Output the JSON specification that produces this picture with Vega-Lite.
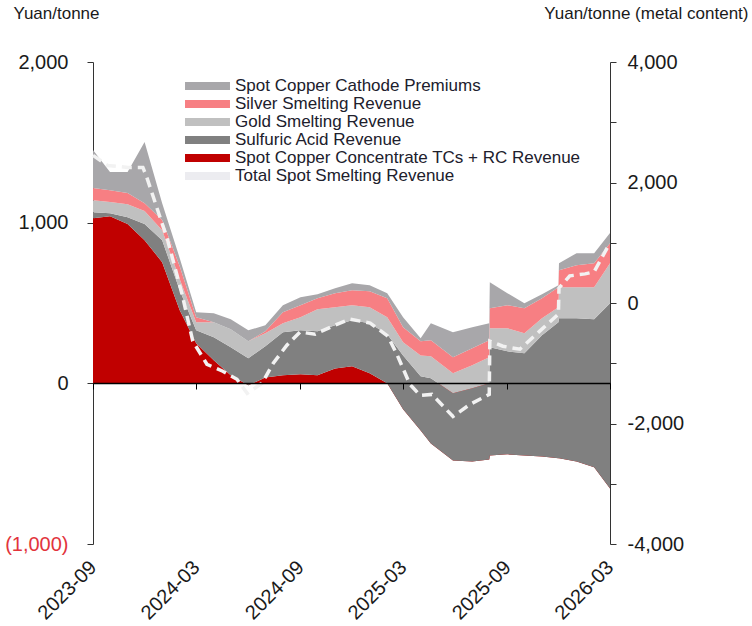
{
  "$schema": "https://vega.github.io/schema/vega-lite/v6.json",
  "width": 517,
  "height": 482,
  "autosize": "none",
  "padding": {"left": 93, "top": 62, "right": 142, "bottom": 82},
  "background": "white",
  "config": {
    "font": "Liberation Sans",
    "view": {"stroke": null},
    "axis": {"grid": false}
  },
  "datasets": {
    "areas": [
      {"date": "2023-09-01", "rank": 1, "series": "Spot Copper Concentrate TCs + RC Revenue", "value": 1028},
      {"date": "2023-10-01", "rank": 1, "series": "Spot Copper Concentrate TCs + RC Revenue", "value": 1040},
      {"date": "2023-11-01", "rank": 1, "series": "Spot Copper Concentrate TCs + RC Revenue", "value": 991},
      {"date": "2023-12-01", "rank": 1, "series": "Spot Copper Concentrate TCs + RC Revenue", "value": 891},
      {"date": "2024-01-01", "rank": 1, "series": "Spot Copper Concentrate TCs + RC Revenue", "value": 754},
      {"date": "2024-02-01", "rank": 1, "series": "Spot Copper Concentrate TCs + RC Revenue", "value": 455},
      {"date": "2024-03-01", "rank": 1, "series": "Spot Copper Concentrate TCs + RC Revenue", "value": 249},
      {"date": "2024-04-01", "rank": 1, "series": "Spot Copper Concentrate TCs + RC Revenue", "value": 143},
      {"date": "2024-05-01", "rank": 1, "series": "Spot Copper Concentrate TCs + RC Revenue", "value": 50},
      {"date": "2024-06-01", "rank": 1, "series": "Spot Copper Concentrate TCs + RC Revenue", "value": -12},
      {"date": "2024-07-01", "rank": 1, "series": "Spot Copper Concentrate TCs + RC Revenue", "value": 37},
      {"date": "2024-08-01", "rank": 1, "series": "Spot Copper Concentrate TCs + RC Revenue", "value": 50},
      {"date": "2024-09-01", "rank": 1, "series": "Spot Copper Concentrate TCs + RC Revenue", "value": 56},
      {"date": "2024-10-01", "rank": 1, "series": "Spot Copper Concentrate TCs + RC Revenue", "value": 50},
      {"date": "2024-11-01", "rank": 1, "series": "Spot Copper Concentrate TCs + RC Revenue", "value": 93},
      {"date": "2024-12-01", "rank": 1, "series": "Spot Copper Concentrate TCs + RC Revenue", "value": 106},
      {"date": "2025-01-01", "rank": 1, "series": "Spot Copper Concentrate TCs + RC Revenue", "value": 62},
      {"date": "2025-02-01", "rank": 1, "series": "Spot Copper Concentrate TCs + RC Revenue", "value": 0},
      {"date": "2025-03-01", "rank": 1, "series": "Spot Copper Concentrate TCs + RC Revenue", "value": -162},
      {"date": "2025-04-01", "rank": 1, "series": "Spot Copper Concentrate TCs + RC Revenue", "value": -293},
      {"date": "2025-04-19", "rank": 1, "series": "Spot Copper Concentrate TCs + RC Revenue", "value": -374},
      {"date": "2025-05-28", "rank": 1, "series": "Spot Copper Concentrate TCs + RC Revenue", "value": -480},
      {"date": "2025-07-01", "rank": 1, "series": "Spot Copper Concentrate TCs + RC Revenue", "value": -486},
      {"date": "2025-07-31", "rank": 1, "series": "Spot Copper Concentrate TCs + RC Revenue", "value": -474},
      {"date": "2025-08-01", "rank": 1, "series": "Spot Copper Concentrate TCs + RC Revenue", "value": -449},
      {"date": "2025-09-01", "rank": 1, "series": "Spot Copper Concentrate TCs + RC Revenue", "value": -442},
      {"date": "2025-10-01", "rank": 1, "series": "Spot Copper Concentrate TCs + RC Revenue", "value": -449},
      {"date": "2025-11-01", "rank": 1, "series": "Spot Copper Concentrate TCs + RC Revenue", "value": -455},
      {"date": "2025-11-30", "rank": 1, "series": "Spot Copper Concentrate TCs + RC Revenue", "value": -467},
      {"date": "2025-12-01", "rank": 1, "series": "Spot Copper Concentrate TCs + RC Revenue", "value": -467},
      {"date": "2026-01-01", "rank": 1, "series": "Spot Copper Concentrate TCs + RC Revenue", "value": -486},
      {"date": "2026-02-01", "rank": 1, "series": "Spot Copper Concentrate TCs + RC Revenue", "value": -523},
      {"date": "2026-03-01", "rank": 1, "series": "Spot Copper Concentrate TCs + RC Revenue", "value": -654},

      {"date": "2023-09-01", "rank": 2, "series": "Sulfuric Acid Revenue", "value": 37},
      {"date": "2023-10-01", "rank": 2, "series": "Sulfuric Acid Revenue", "value": 19},
      {"date": "2023-11-01", "rank": 2, "series": "Sulfuric Acid Revenue", "value": 43},
      {"date": "2023-12-01", "rank": 2, "series": "Sulfuric Acid Revenue", "value": 100},
      {"date": "2024-01-01", "rank": 2, "series": "Sulfuric Acid Revenue", "value": 137},
      {"date": "2024-02-01", "rank": 2, "series": "Sulfuric Acid Revenue", "value": 124},
      {"date": "2024-03-01", "rank": 2, "series": "Sulfuric Acid Revenue", "value": 81},
      {"date": "2024-04-01", "rank": 2, "series": "Sulfuric Acid Revenue", "value": 144},
      {"date": "2024-05-01", "rank": 2, "series": "Sulfuric Acid Revenue", "value": 174},
      {"date": "2024-06-01", "rank": 2, "series": "Sulfuric Acid Revenue", "value": 168},
      {"date": "2024-07-01", "rank": 2, "series": "Sulfuric Acid Revenue", "value": 194},
      {"date": "2024-08-01", "rank": 2, "series": "Sulfuric Acid Revenue", "value": 268},
      {"date": "2024-09-01", "rank": 2, "series": "Sulfuric Acid Revenue", "value": 274},
      {"date": "2024-10-01", "rank": 2, "series": "Sulfuric Acid Revenue", "value": 274},
      {"date": "2024-11-01", "rank": 2, "series": "Sulfuric Acid Revenue", "value": 268},
      {"date": "2024-12-01", "rank": 2, "series": "Sulfuric Acid Revenue", "value": 287},
      {"date": "2025-01-01", "rank": 2, "series": "Sulfuric Acid Revenue", "value": 312},
      {"date": "2025-02-01", "rank": 2, "series": "Sulfuric Acid Revenue", "value": 305},
      {"date": "2025-03-01", "rank": 2, "series": "Sulfuric Acid Revenue", "value": 336},
      {"date": "2025-04-01", "rank": 2, "series": "Sulfuric Acid Revenue", "value": 337},
      {"date": "2025-04-19", "rank": 2, "series": "Sulfuric Acid Revenue", "value": 405},
      {"date": "2025-05-28", "rank": 2, "series": "Sulfuric Acid Revenue", "value": 418},
      {"date": "2025-07-01", "rank": 2, "series": "Sulfuric Acid Revenue", "value": 455},
      {"date": "2025-07-31", "rank": 2, "series": "Sulfuric Acid Revenue", "value": 474},
      {"date": "2025-08-01", "rank": 2, "series": "Sulfuric Acid Revenue", "value": 673},
      {"date": "2025-09-01", "rank": 2, "series": "Sulfuric Acid Revenue", "value": 641},
      {"date": "2025-10-01", "rank": 2, "series": "Sulfuric Acid Revenue", "value": 636},
      {"date": "2025-11-01", "rank": 2, "series": "Sulfuric Acid Revenue", "value": 754},
      {"date": "2025-11-30", "rank": 2, "series": "Sulfuric Acid Revenue", "value": 847},
      {"date": "2025-12-01", "rank": 2, "series": "Sulfuric Acid Revenue", "value": 872},
      {"date": "2026-01-01", "rank": 2, "series": "Sulfuric Acid Revenue", "value": 891},
      {"date": "2026-02-01", "rank": 2, "series": "Sulfuric Acid Revenue", "value": 922},
      {"date": "2026-03-01", "rank": 2, "series": "Sulfuric Acid Revenue", "value": 1152},

      {"date": "2023-09-01", "rank": 3, "series": "Gold Smelting Revenue", "value": 75},
      {"date": "2023-10-01", "rank": 3, "series": "Gold Smelting Revenue", "value": 69},
      {"date": "2023-11-01", "rank": 3, "series": "Gold Smelting Revenue", "value": 81},
      {"date": "2023-12-01", "rank": 3, "series": "Gold Smelting Revenue", "value": 81},
      {"date": "2024-01-01", "rank": 3, "series": "Gold Smelting Revenue", "value": 62},
      {"date": "2024-02-01", "rank": 3, "series": "Gold Smelting Revenue", "value": 69},
      {"date": "2024-03-01", "rank": 3, "series": "Gold Smelting Revenue", "value": 50},
      {"date": "2024-04-01", "rank": 3, "series": "Gold Smelting Revenue", "value": 93},
      {"date": "2024-05-01", "rank": 3, "series": "Gold Smelting Revenue", "value": 112},
      {"date": "2024-06-01", "rank": 3, "series": "Gold Smelting Revenue", "value": 106},
      {"date": "2024-07-01", "rank": 3, "series": "Gold Smelting Revenue", "value": 81},
      {"date": "2024-08-01", "rank": 3, "series": "Gold Smelting Revenue", "value": 56},
      {"date": "2024-09-01", "rank": 3, "series": "Gold Smelting Revenue", "value": 81},
      {"date": "2024-10-01", "rank": 3, "series": "Gold Smelting Revenue", "value": 137},
      {"date": "2024-11-01", "rank": 3, "series": "Gold Smelting Revenue", "value": 113},
      {"date": "2024-12-01", "rank": 3, "series": "Gold Smelting Revenue", "value": 93},
      {"date": "2025-01-01", "rank": 3, "series": "Gold Smelting Revenue", "value": 100},
      {"date": "2025-02-01", "rank": 3, "series": "Gold Smelting Revenue", "value": 106},
      {"date": "2025-03-01", "rank": 3, "series": "Gold Smelting Revenue", "value": 81},
      {"date": "2025-04-01", "rank": 3, "series": "Gold Smelting Revenue", "value": 130},
      {"date": "2025-04-19", "rank": 3, "series": "Gold Smelting Revenue", "value": 137},
      {"date": "2025-05-28", "rank": 3, "series": "Gold Smelting Revenue", "value": 124},
      {"date": "2025-07-01", "rank": 3, "series": "Gold Smelting Revenue", "value": 143},
      {"date": "2025-07-31", "rank": 3, "series": "Gold Smelting Revenue", "value": 162},
      {"date": "2025-08-01", "rank": 3, "series": "Gold Smelting Revenue", "value": 119},
      {"date": "2025-09-01", "rank": 3, "series": "Gold Smelting Revenue", "value": 144},
      {"date": "2025-10-01", "rank": 3, "series": "Gold Smelting Revenue", "value": 125},
      {"date": "2025-11-01", "rank": 3, "series": "Gold Smelting Revenue", "value": 106},
      {"date": "2025-11-30", "rank": 3, "series": "Gold Smelting Revenue", "value": 94},
      {"date": "2025-12-01", "rank": 3, "series": "Gold Smelting Revenue", "value": 193},
      {"date": "2026-01-01", "rank": 3, "series": "Gold Smelting Revenue", "value": 193},
      {"date": "2026-02-01", "rank": 3, "series": "Gold Smelting Revenue", "value": 199},
      {"date": "2026-03-01", "rank": 3, "series": "Gold Smelting Revenue", "value": 250},

      {"date": "2023-09-01", "rank": 4, "series": "Silver Smelting Revenue", "value": 75},
      {"date": "2023-10-01", "rank": 4, "series": "Silver Smelting Revenue", "value": 74},
      {"date": "2023-11-01", "rank": 4, "series": "Silver Smelting Revenue", "value": 69},
      {"date": "2023-12-01", "rank": 4, "series": "Silver Smelting Revenue", "value": 49},
      {"date": "2024-01-01", "rank": 4, "series": "Silver Smelting Revenue", "value": 63},
      {"date": "2024-02-01", "rank": 4, "series": "Silver Smelting Revenue", "value": 81},
      {"date": "2024-03-01", "rank": 4, "series": "Silver Smelting Revenue", "value": 31},
      {"date": "2024-04-01", "rank": 4, "series": "Silver Smelting Revenue", "value": 0},
      {"date": "2024-05-01", "rank": 4, "series": "Silver Smelting Revenue", "value": 0},
      {"date": "2024-06-01", "rank": 4, "series": "Silver Smelting Revenue", "value": 0},
      {"date": "2024-07-01", "rank": 4, "series": "Silver Smelting Revenue", "value": 12},
      {"date": "2024-08-01", "rank": 4, "series": "Silver Smelting Revenue", "value": 68},
      {"date": "2024-09-01", "rank": 4, "series": "Silver Smelting Revenue", "value": 75},
      {"date": "2024-10-01", "rank": 4, "series": "Silver Smelting Revenue", "value": 69},
      {"date": "2024-11-01", "rank": 4, "series": "Silver Smelting Revenue", "value": 87},
      {"date": "2024-12-01", "rank": 4, "series": "Silver Smelting Revenue", "value": 93},
      {"date": "2025-01-01", "rank": 4, "series": "Silver Smelting Revenue", "value": 99},
      {"date": "2025-02-01", "rank": 4, "series": "Silver Smelting Revenue", "value": 119},
      {"date": "2025-03-01", "rank": 4, "series": "Silver Smelting Revenue", "value": 94},
      {"date": "2025-04-01", "rank": 4, "series": "Silver Smelting Revenue", "value": 88},
      {"date": "2025-04-19", "rank": 4, "series": "Silver Smelting Revenue", "value": 100},
      {"date": "2025-05-28", "rank": 4, "series": "Silver Smelting Revenue", "value": 100},
      {"date": "2025-07-01", "rank": 4, "series": "Silver Smelting Revenue", "value": 106},
      {"date": "2025-07-31", "rank": 4, "series": "Silver Smelting Revenue", "value": 106},
      {"date": "2025-08-01", "rank": 4, "series": "Silver Smelting Revenue", "value": 124},
      {"date": "2025-09-01", "rank": 4, "series": "Silver Smelting Revenue", "value": 143},
      {"date": "2025-10-01", "rank": 4, "series": "Silver Smelting Revenue", "value": 155},
      {"date": "2025-11-01", "rank": 4, "series": "Silver Smelting Revenue", "value": 125},
      {"date": "2025-11-30", "rank": 4, "series": "Silver Smelting Revenue", "value": 124},
      {"date": "2025-12-01", "rank": 4, "series": "Silver Smelting Revenue", "value": 106},
      {"date": "2026-01-01", "rank": 4, "series": "Silver Smelting Revenue", "value": 137},
      {"date": "2026-02-01", "rank": 4, "series": "Silver Smelting Revenue", "value": 150},
      {"date": "2026-03-01", "rank": 4, "series": "Silver Smelting Revenue", "value": 124},

      {"date": "2023-09-01", "rank": 5, "series": "Spot Copper Cathode Premiums", "value": 237},
      {"date": "2023-10-01", "rank": 5, "series": "Spot Copper Cathode Premiums", "value": 113},
      {"date": "2023-11-01", "rank": 5, "series": "Spot Copper Cathode Premiums", "value": 131},
      {"date": "2023-12-01", "rank": 5, "series": "Spot Copper Cathode Premiums", "value": 381},
      {"date": "2024-01-01", "rank": 5, "series": "Spot Copper Cathode Premiums", "value": 105},
      {"date": "2024-02-01", "rank": 5, "series": "Spot Copper Cathode Premiums", "value": 50},
      {"date": "2024-03-01", "rank": 5, "series": "Spot Copper Cathode Premiums", "value": 31},
      {"date": "2024-04-01", "rank": 5, "series": "Spot Copper Cathode Premiums", "value": 56},
      {"date": "2024-05-01", "rank": 5, "series": "Spot Copper Cathode Premiums", "value": 63},
      {"date": "2024-06-01", "rank": 5, "series": "Spot Copper Cathode Premiums", "value": 68},
      {"date": "2024-07-01", "rank": 5, "series": "Spot Copper Cathode Premiums", "value": 37},
      {"date": "2024-08-01", "rank": 5, "series": "Spot Copper Cathode Premiums", "value": 44},
      {"date": "2024-09-01", "rank": 5, "series": "Spot Copper Cathode Premiums", "value": 50},
      {"date": "2024-10-01", "rank": 5, "series": "Spot Copper Cathode Premiums", "value": 25},
      {"date": "2024-11-01", "rank": 5, "series": "Spot Copper Cathode Premiums", "value": 31},
      {"date": "2024-12-01", "rank": 5, "series": "Spot Copper Cathode Premiums", "value": 44},
      {"date": "2025-01-01", "rank": 5, "series": "Spot Copper Cathode Premiums", "value": 38},
      {"date": "2025-02-01", "rank": 5, "series": "Spot Copper Cathode Premiums", "value": 31},
      {"date": "2025-03-01", "rank": 5, "series": "Spot Copper Cathode Premiums", "value": 62},
      {"date": "2025-04-01", "rank": 5, "series": "Spot Copper Cathode Premiums", "value": 18},
      {"date": "2025-04-19", "rank": 5, "series": "Spot Copper Cathode Premiums", "value": 106},
      {"date": "2025-05-28", "rank": 5, "series": "Spot Copper Cathode Premiums", "value": 156},
      {"date": "2025-07-01", "rank": 5, "series": "Spot Copper Cathode Premiums", "value": 131},
      {"date": "2025-07-31", "rank": 5, "series": "Spot Copper Cathode Premiums", "value": 106},
      {"date": "2025-08-01", "rank": 5, "series": "Spot Copper Cathode Premiums", "value": 162},
      {"date": "2025-09-01", "rank": 5, "series": "Spot Copper Cathode Premiums", "value": 75},
      {"date": "2025-10-01", "rank": 5, "series": "Spot Copper Cathode Premiums", "value": 31},
      {"date": "2025-11-01", "rank": 5, "series": "Spot Copper Cathode Premiums", "value": 25},
      {"date": "2025-11-30", "rank": 5, "series": "Spot Copper Cathode Premiums", "value": 12},
      {"date": "2025-12-01", "rank": 5, "series": "Spot Copper Cathode Premiums", "value": 44},
      {"date": "2026-01-01", "rank": 5, "series": "Spot Copper Cathode Premiums", "value": 75},
      {"date": "2026-02-01", "rank": 5, "series": "Spot Copper Cathode Premiums", "value": 62},
      {"date": "2026-03-01", "rank": 5, "series": "Spot Copper Cathode Premiums", "value": 63}
    ],
    "total": [
      {"date": "2023-09-01", "value": 2450},
      {"date": "2023-09-27", "value": 2283},
      {"date": "2023-11-02", "value": 2250},
      {"date": "2023-11-28", "value": 2250},
      {"date": "2023-12-05", "value": 2083},
      {"date": "2024-01-11", "value": 1033},
      {"date": "2024-02-05", "value": 150},
      {"date": "2024-02-24", "value": -633},
      {"date": "2024-03-20", "value": -1017},
      {"date": "2024-04-17", "value": -1133},
      {"date": "2024-05-12", "value": -1267},
      {"date": "2024-05-30", "value": -1500},
      {"date": "2024-06-25", "value": -1333},
      {"date": "2024-07-15", "value": -1000},
      {"date": "2024-08-08", "value": -700},
      {"date": "2024-08-31", "value": -483},
      {"date": "2024-09-27", "value": -517},
      {"date": "2024-10-28", "value": -383},
      {"date": "2024-11-27", "value": -267},
      {"date": "2025-01-02", "value": -333},
      {"date": "2025-02-02", "value": -550},
      {"date": "2025-02-18", "value": -850},
      {"date": "2025-03-13", "value": -1350},
      {"date": "2025-03-31", "value": -1533},
      {"date": "2025-04-21", "value": -1517},
      {"date": "2025-05-28", "value": -1883},
      {"date": "2025-06-27", "value": -1683},
      {"date": "2025-07-31", "value": -1517},
      {"date": "2025-08-01", "value": -633},
      {"date": "2025-08-24", "value": -717},
      {"date": "2025-09-23", "value": -767},
      {"date": "2025-10-28", "value": -467},
      {"date": "2025-11-30", "value": -183},
      {"date": "2025-12-01", "value": 250},
      {"date": "2025-12-20", "value": 450},
      {"date": "2026-01-16", "value": 483},
      {"date": "2026-02-01", "value": 517},
      {"date": "2026-03-01", "value": 1000}
    ]
  },
  "layer": [
    {
      "layer": [
        {
          "data": {"name": "areas"},
          "transform": [{"filter": "datum.rank == 1"}],
          "mark": {"type": "area"},
          "encoding": {
            "x": {
              "field": "date", "type": "temporal",
              "scale": {"domain": [{"year": 2023, "month": 9, "date": 1}, {"year": 2026, "month": 3, "date": 1}]},
              "axis": {
                "orient": "bottom", "offset": -161, "title": null, "zindex": 1,
                "values": [
                  {"year": 2023, "month": 9, "date": 1},
                  {"year": 2024, "month": 3, "date": 1},
                  {"year": 2024, "month": 9, "date": 1},
                  {"year": 2025, "month": 3, "date": 1},
                  {"year": 2025, "month": 9, "date": 1},
                  {"year": 2026, "month": 3, "date": 1}
                ],
                "format": "%Y-%m", "labelAngle": -45, "labelAlign": "right", "labelBaseline": "middle",
                "labelPadding": 175, "labelFontSize": 20, "labelColor": "#1a1a1a", "labelFlush": false,
                "tickSize": 6, "tickColor": "#000000", "domainColor": "#000000", "domainWidth": 1.5
              }
            },
            "y": {
              "field": "value", "type": "quantitative",
              "scale": {"domain": [-1000, 2000], "nice": false, "zero": false},
              "axis": {
                "orient": "left", "values": [-1000, 0, 1000, 2000],
                "labelExpr": "datum.value < 0 ? '(' + format(-datum.value, ',') + ')' : format(datum.value, ',')",
                "labelColor": {"condition": {"test": "datum.value < 0", "value": "#e2343c"}, "value": "#1a1a1a"},
                "labelFontSize": 20, "labelPadding": 19, "tickSize": 6, "tickColor": "#333333", "domainColor": "#333333",
                "title": "Yuan/tonne", "titleAngle": 0, "titleAlign": "left",
                "titleX": -80, "titleY": -40, "titleFontSize": 17, "titleFontWeight": "normal", "titleColor": "#1a1a1a"
              }
            },
            "y2": {"datum": 0},
            "color": {
              "field": "series", "type": "nominal",
              "scale": {
                "domain": ["Spot Copper Cathode Premiums", "Silver Smelting Revenue", "Gold Smelting Revenue", "Sulfuric Acid Revenue", "Spot Copper Concentrate TCs + RC Revenue", "Total Spot Smelting Revenue"],
                "range": ["#a8a7aa", "#f77f83", "#c0c0c0", "#808080", "#c00000", "#ececf0"]
              },
              "legend": {
                "orient": "none", "legendX": 105.5, "legendY": 15, "title": null,
                "symbolType": "M-2.727,-0.485H2.727V0.485H-2.727Z", "symbolSize": 272,
                "rowPadding": 1, "labelOffset": 18.5,
                "labelFontSize": 17, "labelColor": "#20202c", "labelLimit": 600
              }
            }
          }
        },
        {
          "data": {"name": "areas"},
          "transform": [
            {"window": [{"op": "sum", "field": "value", "as": "top"}], "groupby": ["date"], "sort": [{"field": "rank"}]},
            {"window": [{"op": "lag", "field": "top", "param": 1, "as": "base"}], "groupby": ["date"], "sort": [{"field": "rank"}]},
            {"filter": "datum.rank > 1"}
          ],
          "mark": {"type": "area"},
          "encoding": {
            "x": {"field": "date", "type": "temporal"},
            "y": {"field": "top", "type": "quantitative"},
            "y2": {"field": "base"},
            "color": {"field": "series", "type": "nominal"}
          }
        }
      ]
    },
    {
      "data": {"name": "total"},
      "mark": {"type": "line", "color": "#f2f2f2", "strokeWidth": 3.5, "strokeDash": [10, 6]},
      "encoding": {
        "x": {"field": "date", "type": "temporal"},
        "y": {
          "field": "value", "type": "quantitative",
          "scale": {"domain": [-4000, 4000], "nice": false, "zero": false},
          "axis": {
            "orient": "right", "values": [-4000, -3000, -2000, -1000, 0, 1000, 2000, 3000, 4000],
            "labelExpr": "datum.value % 2000 == 0 ? (datum.value < 0 ? '-' : '') + format(abs(datum.value), ',') : ''",
            "labelFontSize": 20, "labelPadding": 11, "labelColor": "#1a1a1a",
            "tickSize": 6, "tickColor": "#333333", "domainColor": "#333333",
            "title": "Yuan/tonne (metal content)", "titleAngle": 0, "titleAlign": "right",
            "titleX": 138, "titleY": -40, "titleFontSize": 17, "titleFontWeight": "normal", "titleColor": "#1a1a1a"
          }
        }
      }
    }
  ],
  "resolve": {"scale": {"y": "independent"}}
}
